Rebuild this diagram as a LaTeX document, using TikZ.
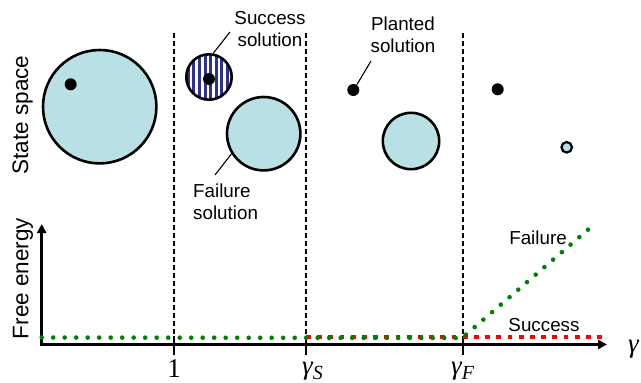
\documentclass[tikz,border=0pt]{standalone}
\usepackage{fontspec}
\setmainfont{Liberation Sans}
\newfontfamily\serifrm{Liberation Serif}
\usetikzlibrary{arrows.meta}
\definecolor{cellblue}{HTML}{B9E0E4}
\definecolor{stripenavy}{HTML}{2E3192}
\definecolor{dotgreen}{HTML}{008000}
\newcommand{\gsub}[1]{{\itshape γ\raisebox{-5pt}{\fontsize{20}{20}\selectfont\itshape #1}}}

\begin{document}
\begin{tikzpicture}[x=1pt,y=-1pt,
    every node/.style={font=\fontsize{18.8}{22}\selectfont,inner sep=0pt},
    region/.style={circle,draw,line width=2.6pt,fill=cellblue},
    sol/.style={circle,fill=black,minimum size=12pt},
    leader/.style={line width=1.1pt},
    boundary/.style={line width=1.1pt,dash pattern=on 4.7pt off 3.3pt},
    ticklab/.style={font=\fontsize{27}{30}\selectfont\serifrm,anchor=base west},
    sidelab/.style={font=\fontsize{22.5}{26}\selectfont,rotate=90,anchor=base}]
  \useasboundingbox (0,0) rectangle (641,383);

  % phase boundaries and ticks
  \foreach \x/\n in {174/one,306/gs,463/gf} {
    \coordinate (\n-top) at (\x,33);
    \coordinate (\n-low) at (\x,336);
    \coordinate (\n-bot) at (\x,355);
    \draw[boundary] (\n-top) -- (\n-low);
    \draw[line width=2.8pt] (\n-low) -- (\n-bot);
  }

  % state space
  \node[region,minimum size=113.4pt] (bigcell) at (99.7,106.7) {};
  \node[sol] (bigsol) at (70.7,84.3) {};

  \fill[white] (209,77) circle (22.7pt);
  \begin{scope}
    \clip (209,77) circle (22.7pt);
    \foreach \k in {-1,...,7}
    \fill[stripenavy] ({186.8+5.6*\k},50) rectangle ++(3,55);
  \end{scope}
  \node[region,fill=none,minimum size=45.4pt] (succ) at (209,77) {};
  \node[sol] (succsol) at (209,79) {};
  \node[region,minimum size=73.4pt] (fail) at (263.7,133.7) {};

  \node[sol] (plant) at (353.3,90) {};
  \node[region,minimum size=56.4pt] (midcell) at (411,141) {};
  \node[sol] (farsol) at (497.7,89.3) {};
  \node[region,line width=2.2pt,minimum size=10.5pt] (tinycell) at (566.7,147.3) {};

  \node[align=center] (succlab) at (270,29.5) {Success\\solution};
  \node[align=left,anchor=west] (faillab) at (193,202) {Failure\\solution};
  \node[align=center] (plantlab) at (403,35) {Planted\\solution};
  \coordinate (succ-tip) at (230,32);
  \coordinate (fail-tip) at (215,175);
  \coordinate (plant-tip) at (371,61);
  \draw[leader] (succ.80) -- (succ-tip);
  \draw[leader] (fail.212) -- (fail-tip);
  \draw[leader] (plant.56) -- (plant-tip);

  \node[sidelab] (statelab) at (28,115) {State space};

  % free energy plot
  \coordinate (O) at (41.7,344.5);
  \coordinate (ytip) at (41.7,224);
  \coordinate (xtip) at (607,344.5);
  \draw[line width=2.8pt,line join=miter,
    {Triangle[length=9pt,width=9pt]}-{Triangle[length=9pt,width=9pt]}]
    (ytip) |- (xtip);
  \node[sidelab] (freelab) at (28.3,278.5) {Free energy};

  \coordinate (r0) at (306,337);
  \coordinate (r1) at (601.7,337);
  \draw[red,line width=4.7pt,dash pattern=on 4.7pt off 6.5pt] (r0) -- (r1);

  \coordinate (g0) at (41.7,337.5);
  \coordinate (gknee) at (462,338);
  \coordinate (gend) at (590.3,227.7);
  \draw[dotgreen,line width=4.6pt,line cap=round,dash pattern=on 0pt off 11.5pt]
    (g0) -- (gknee) -- (gend);

  \node (faillbl) at (538,238) {Failure};
  \node (succlbl) at (544,325) {Success};

  \node[ticklab,anchor=base] (lone) at (174,377) {1};
  \node[ticklab] (lgs) at (302,374) {\gsub{S}};
  \node[ticklab] (lgf) at (451,374) {\gsub{F}};
  \node[ticklab] (lgam) at (628,352) {\itshape γ};
\end{tikzpicture}
\end{document}
